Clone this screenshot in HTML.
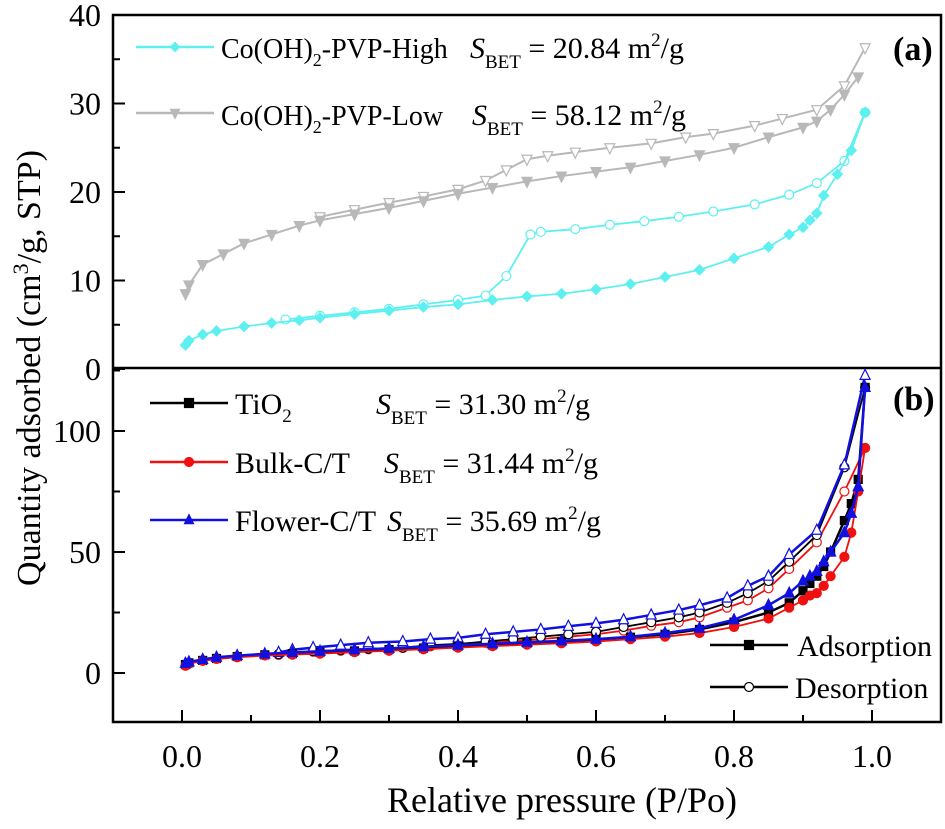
<!DOCTYPE html>
<html><head><meta charset="utf-8"><style>
body{margin:0;background:#fff}
svg{display:block;font-family:"Liberation Serif",serif}
</style></head><body>
<svg id="chart" width="945" height="829" viewBox="0 0 945 829" xmlns="http://www.w3.org/2000/svg">
<g id="g"></g>
</svg>
<script>
const highAdsX=[0.005,0.01,0.03,0.05,0.09,0.13,0.17,0.2,0.25,0.3,0.35,0.4,0.45,0.5,0.55,0.6,0.65,0.7,0.75,0.8,0.85,0.88,0.9,0.91,0.92,0.93,0.95,0.97,0.99];
const highAdsY=[2.7,3.2,3.9,4.3,4.8,5.2,5.5,5.8,6.2,6.6,7.0,7.3,7.8,8.2,8.5,9.0,9.6,10.4,11.2,12.5,13.8,15.2,16.0,16.8,17.6,19.6,22.0,24.7,29.0];
const highDesX=[0.99,0.96,0.92,0.88,0.83,0.77,0.72,0.67,0.62,0.57,0.52,0.505,0.47,0.44,0.4,0.35,0.3,0.25,0.2,0.15];
const highDesY=[29.0,23.5,21.0,19.7,18.6,17.8,17.2,16.7,16.3,15.8,15.5,15.2,10.5,8.3,7.8,7.3,6.8,6.4,6.0,5.6];
const lowAdsX=[0.005,0.01,0.03,0.06,0.09,0.13,0.17,0.2,0.25,0.3,0.35,0.4,0.45,0.5,0.55,0.6,0.65,0.7,0.75,0.8,0.85,0.9,0.92,0.94,0.96,0.98];
const lowAdsY=[8.5,9.5,11.8,13.0,14.2,15.2,16.2,16.8,17.5,18.2,19.0,19.8,20.5,21.2,21.8,22.3,22.8,23.5,24.2,25.0,26.2,27.3,28.0,29.3,31.0,33.0];
const lowDesX=[0.99,0.96,0.92,0.87,0.83,0.77,0.73,0.68,0.62,0.57,0.53,0.5,0.47,0.44,0.4,0.35,0.3,0.25,0.2];
const lowDesY=[36.3,32.0,29.3,28.3,27.5,26.6,26.2,25.5,25.0,24.5,24.1,23.7,22.5,21.3,20.3,19.5,18.8,18.0,17.2];

const bAdsX=[0.005,0.01,0.03,0.05,0.08,0.12,0.16,0.2,0.25,0.3,0.35,0.4,0.45,0.5,0.55,0.6,0.65,0.7,0.75,0.8,0.85,0.88,0.9,0.91,0.92,0.93,0.94,0.96,0.97,0.98,0.99];
const tiAdsY=[3.5,4.2,5.2,6.0,6.8,7.5,8.0,8.5,9.1,9.7,10.3,11.0,11.6,12.3,13.0,13.8,14.8,16.0,18.0,21.0,25.0,29.0,34.0,37.0,40.0,44.0,50.0,63.0,70.0,80.0,118.0];
const buAdsY=[3.0,3.8,5.0,5.8,6.5,7.2,7.6,8.0,8.6,9.2,9.8,10.5,11.1,11.7,12.3,13.0,14.0,15.0,16.5,19.0,22.5,27.0,30.0,32.0,33.0,36.0,40.0,48.0,58.0,75.0,93.0];
const flAdsY=[4.0,4.6,5.6,6.5,7.2,7.9,8.5,9.0,9.6,10.2,10.9,11.5,12.1,12.7,13.3,14.0,15.0,16.5,18.5,22.0,28.0,33.0,38.0,40.0,42.0,46.0,50.0,58.0,66.0,77.0,118.0];
const bDesX=[0.99,0.96,0.92,0.88,0.85,0.82,0.79,0.75,0.72,0.68,0.64,0.6,0.56,0.52,0.48,0.44,0.4,0.36,0.32,0.27,0.23,0.19,0.16,0.14];
const tiDesY=[118,85,57,46,38,33,29,25,23,21,19,17,16,15,14,13,12,11.5,10.5,10,9.5,9,8.2,7.8];
const buDesY=[93,75,54,43,35,30,27,23,21,19.5,17.5,16,15,14,13.2,12.5,11.5,11,10.3,9.8,9.2,8.8,8,7.5];
const flDesY=[123,86,59,49,40,36,31,28,26,24,22,20.5,19.3,18,17,16,14.5,14,13,12.5,11.5,10.5,9.6,8.5];

const xTicks=[0.0,0.2,0.4,0.6,0.8,1.0];
const topTicks=[0,10,20,30,40];
const botTicks=[0,50,100];

const NS="http://www.w3.org/2000/svg";
const G=document.getElementById('g');
function el(t,a,p){const e=document.createElementNS(NS,t);for(const k in a)e.setAttribute(k,a[k]);(p||G).appendChild(e);return e;}
const L=113,R=941,T=15,M=368,B=722;
function X(p){return 182+690*p;}
function Yt(v){return 369-8.85*v;}
function Yb(v){return 673-2.42*v;}

let f=el('rect',{x:L,y:T,width:R-L,height:B-T,fill:'none',stroke:'#000','stroke-width':2.5});


let dv=el('line',{x1:L,x2:R,y1:M,y2:M,stroke:'#000','stroke-width':2.5});



for(let i=-1;i<=10;i++){const p=i/10;const x=X(p);
 const tk=el('line',{x1:x,x2:x,y1:B,y2:B-(i%2===0?12:7),stroke:'#000','stroke-width':2});
 
 }
xTicks.forEach(v=>{const t=el('text',{x:X(v),y:767,'font-size':32,'text-anchor':'middle'});t.textContent=v.toFixed(1);
 
 });
for(let v=0;v<=40;v+=5){const y=Yt(v);if(y<T-1)continue;
 const tk=el('line',{x1:L,x2:L+(v%10===0?12:7),y1:y,y2:y,stroke:'#000','stroke-width':2});
 
 }
topTicks.forEach(v=>{const t=el('text',{x:101,y:Yt(v)+11,'font-size':32,'text-anchor':'end'});t.textContent=v;
 
 });
for(let v=-0;v<=125;v+=25){const y=Yb(v);
 const tk=el('line',{x1:L,x2:L+(v%50===0?12:7),y1:y,y2:y,stroke:'#000','stroke-width':2});
 
 }
botTicks.forEach(v=>{const t=el('text',{x:101,y:Yb(v)+11,'font-size':32,'text-anchor':'end'});t.textContent=v;
 
 });

function marker(g,type,x,y,color,filled,s){
 const fill=filled?color:'#fff';let m;
 if(type==='circle') m=el('circle',{cx:x,cy:y,r:s,fill:fill,stroke:color,'stroke-width':1.2},g);
 else if(type==='square') m=el('rect',{x:x-s,y:y-s,width:2*s,height:2*s,fill:fill,stroke:color,'stroke-width':1.2},g);
 else if(type==='tri') m=el('polygon',{points:`${x},${y-s*1.2} ${x-s},${y+s*0.8} ${x+s},${y+s*0.8}`,fill:fill,stroke:color,'stroke-width':1.2},g);
 else if(type==='dtri') m=el('polygon',{points:`${x},${y+s*1.2} ${x-s},${y-s*0.8} ${x+s},${y-s*0.8}`,fill:fill,stroke:color,'stroke-width':1.2},g);
 else if(type==='diamond') m=el('polygon',{points:`${x},${y-s} ${x-s},${y} ${x},${y+s} ${x+s},${y}`,fill:fill,stroke:color,'stroke-width':1.2},g);
 
 
}
function series(name,xs,ys,Y,color,type,filled,w,s){
 const g=el('g',{});
 
 
 const pts=xs.map((p,i)=>X(p)+','+Y(ys[i])).join(' ');
 el('polyline',{points:pts,fill:'none',stroke:color,'stroke-width':w},g);
 xs.forEach((p,i)=>marker(g,type,X(p),Y(ys[i]),color,filled,s));
}
const cy='#5ef0f0',gr='#b8b8b8';
series('low-desorption',lowDesX,lowDesY,Yt,gr,'dtri',false,2,5);
series('low-adsorption',lowAdsX,lowAdsY,Yt,gr,'dtri',true,2,5);
series('high-desorption',highDesX,highDesY,Yt,cy,'circle',false,1.8,4.5);
series('high-adsorption',highAdsX,highAdsY,Yt,cy,'diamond',true,1.8,5);

series('bulk-desorption',bDesX,buDesY,Yb,'#f01010','circle',false,1.8,4.5);
series('tio2-desorption',bDesX,tiDesY,Yb,'#000','circle',false,1.8,4.5);
series('flower-desorption',bDesX,flDesY,Yb,'#1010e0','tri',false,2.5,5);
series('tio2-adsorption',bAdsX,tiAdsY,Yb,'#000','square',true,2.5,4);
series('bulk-adsorption',bAdsX,buAdsY,Yb,'#f01010','circle',true,1.8,4.5);
series('flower-adsorption',bAdsX,flAdsY,Yb,'#1010e0','tri',true,2.5,5);

function legLine(name,x,y,color,type,filled){
 const g=el('g',{});
 
 
 el('line',{x1:x,x2:x+78,y1:y,y2:y,stroke:color,'stroke-width':2.5},g);
 marker(g,type,x+39,y,color,filled,4.5);
}
legLine('legend-high',136,47,cy,'diamond',true);
legLine('legend-low',136,113,gr,'dtri',true);
legLine('legend-tio2',150,403,'#000','square',true);
legLine('legend-bulk',150,462,'#f01010','circle',true);
legLine('legend-flower',150,520,'#1010e0','tri',true);
legLine('legend-adsorption',710,645,'#000','square',true);
legLine('legend-desorption',710,687,'#000','circle',false);
</script>
<svg style="position:absolute;left:0;top:0" width="945" height="829" font-family="Liberation Serif, serif">
<g font-size="30">
<text x="221" y="58" font-size="28">Co(OH)<tspan font-size="18" dy="8">2</tspan><tspan dy="-8">-PVP-High</tspan></text>
<text x="470" y="58"><tspan font-style="italic">S</tspan><tspan font-size="19" dy="10">BET</tspan><tspan dy="-10"> = 20.84 m</tspan><tspan font-size="19" dy="-12">2</tspan><tspan dy="12">/g</tspan></text>
<text x="221" y="125" font-size="28">Co(OH)<tspan font-size="18" dy="8">2</tspan><tspan dy="-8">-PVP-Low</tspan></text>
<text x="472" y="125"><tspan font-style="italic">S</tspan><tspan font-size="19" dy="10">BET</tspan><tspan dy="-10"> = 58.12 m</tspan><tspan font-size="19" dy="-12">2</tspan><tspan dy="12">/g</tspan></text>
<text x="235" y="414">TiO<tspan font-size="19" dy="8">2</tspan></text>
<text x="376" y="414"><tspan font-style="italic">S</tspan><tspan font-size="19" dy="10">BET</tspan><tspan dy="-10"> = 31.30 m</tspan><tspan font-size="19" dy="-12">2</tspan><tspan dy="12">/g</tspan></text>
<text x="235" y="473">Bulk-C/T</text>
<text x="384" y="473"><tspan font-style="italic">S</tspan><tspan font-size="19" dy="10">BET</tspan><tspan dy="-10"> = 31.44 m</tspan><tspan font-size="19" dy="-12">2</tspan><tspan dy="12">/g</tspan></text>
<text x="235" y="531">Flower-C/T</text>
<text x="387" y="531"><tspan font-style="italic">S</tspan><tspan font-size="19" dy="10">BET</tspan><tspan dy="-10"> = 35.69 m</tspan><tspan font-size="19" dy="-12">2</tspan><tspan dy="12">/g</tspan></text>
<text x="797" y="656">Adsorption</text>
<text x="795" y="698">Desorption</text>
</g>
<text x="893" y="60" font-size="34" font-weight="bold">(a)</text>
<text x="893" y="410" font-size="34" font-weight="bold">(b)</text>
<text x="562" y="812" font-size="36" text-anchor="middle">Relative pressure (P/Po)</text>
<text transform="translate(40,368) rotate(-90)" font-size="34" text-anchor="middle">Quantity adsorbed (cm<tspan font-size="22" dy="-12">3</tspan><tspan dy="12">/g, STP)</tspan></text>
</svg>
</body></html>
